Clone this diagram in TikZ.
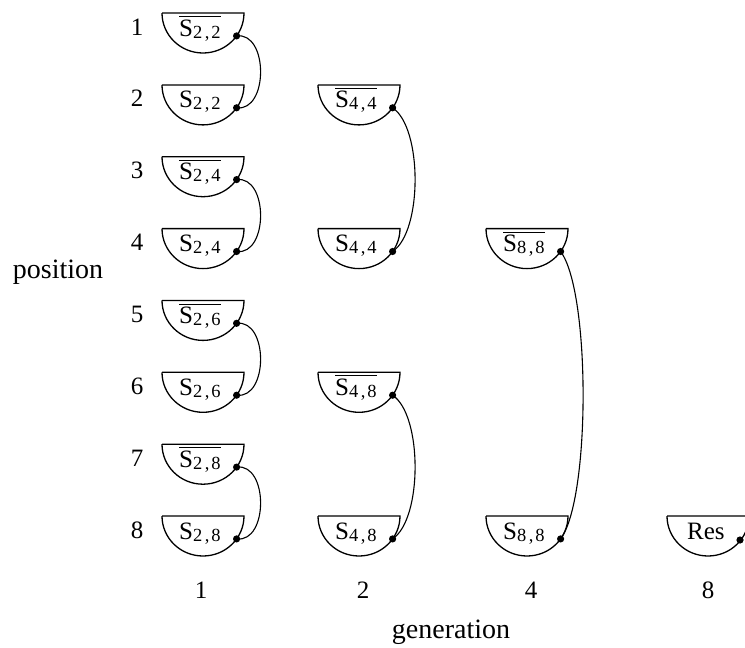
\documentclass[tikz,border=0pt]{standalone}
\usepackage{fontspec}
\setmainfont{Liberation Serif}
\newcommand\ovl[1]{\leavevmode\vbox{\hrule height 0.8pt\kern 2.5pt\hbox{#1}}}
\newcommand\sub[1]{\lower2pt\hbox{\fontsize{18.5}{18.5}\selectfont #1}}
\newcommand\lab[2]{S\sub{#1\hspace{2.5pt},\hspace{2pt}#2}}
\tikzset{
  bowlline/.style={line width=1.3pt},
  conn/.style={line width=1.1pt},
  bowltext/.style={anchor=base west,inner sep=0pt,font=\fontsize{25}{25}\selectfont},
  rowlab/.style={anchor=base,inner sep=0pt,font=\fontsize{25}{26}\selectfont},
  axlab/.style={anchor=base,inner sep=0pt,font=\fontsize{28}{30}\selectfont},
}
% #1 name, #2 cx, #3 top, #4 text
\newcommand\bowl[4]{%
  \draw[bowlline] ({#2-41},{-#3}) -- ({#2+41},{-#3})
     arc[start angle=0,end angle=-180,x radius=41,y radius=40];
  \node[bowltext] (#1) at ({#2-24},{-#3-23}) {#4};
  \coordinate (#1d) at ({#2+33.6},{-#3-22.9});
  \fill (#1d) circle (3.6pt);
}
\begin{document}
\begin{tikzpicture}[x=1pt,y=1pt]
\useasboundingbox (0,0) rectangle (745,-648);
% row tops
\def\ra{13}\def\rb{84.9}\def\rc{156.7}\def\rd{228.6}
\def\re{300.4}\def\rf{372.3}\def\rg{444.2}\def\rh{516}
% generation 1
\bowl{a1}{203}{\ra}{\ovl{\lab{2}{2}}}
\bowl{a2}{203}{\rb}{\lab{2}{2}}
\bowl{a3}{203}{\rc}{\ovl{\lab{2}{4}}}
\bowl{a4}{203}{\rd}{\lab{2}{4}}
\bowl{a5}{203}{\re}{\ovl{\lab{2}{6}}}
\bowl{a6}{203}{\rf}{\lab{2}{6}}
\bowl{a7}{203}{\rg}{\ovl{\lab{2}{8}}}
\bowl{a8}{203}{\rh}{\lab{2}{8}}
% generation 2
\bowl{b2}{359}{\rb}{\ovl{\lab{4}{4}}}
\bowl{b4}{359}{\rd}{\lab{4}{4}}
\bowl{b6}{359}{\rf}{\ovl{\lab{4}{8}}}
\bowl{b8}{359}{\rh}{\lab{4}{8}}
% generation 4
\bowl{c4}{527}{\rd}{\ovl{\lab{8}{8}}}
\bowl{c8}{527}{\rh}{\lab{8}{8}}
% generation 8
\draw[bowlline] (667,-\rh) -- (749,-\rh)
   arc[start angle=0,end angle=-180,x radius=41,y radius=40];
\node[bowltext] (res) at (687,{-\rh-23}) {Res};
\coordinate (resd) at (740,{-\rh-24});
\fill (resd) circle (3.6pt);
% connectors
\draw[conn] (a1d) .. controls +(32,4) and +(32,-4) .. (a2d);
\draw[conn] (a3d) .. controls +(32,4) and +(32,-4) .. (a4d);
\draw[conn] (a5d) .. controls +(32,4) and +(32,-4) .. (a6d);
\draw[conn] (a7d) .. controls +(32,4) and +(32,-4) .. (a8d);
\draw[conn] (b2d) .. controls +(30,-20) and +(30,20) .. (b4d);
\draw[conn] (b6d) .. controls +(30,-20) and +(30,20) .. (b8d);
\draw[conn] (c4d) .. controls +(30,-40) and +(30,40) .. (c8d);
% row labels
\node[rowlab] (p1) at (137,{-\ra-22}) {1};
\node[rowlab] (p2) at (137,{-\rb-22}) {2};
\node[rowlab] (p3) at (137,{-\rc-22}) {3};
\node[rowlab] (p4) at (137,{-\rd-22}) {4};
\node[rowlab] (p5) at (137,{-\re-22}) {5};
\node[rowlab] (p6) at (137,{-\rf-22}) {6};
\node[rowlab] (p7) at (137,{-\rg-22}) {7};
\node[rowlab] (p8) at (137,{-\rh-22}) {8};
% column labels
\node[rowlab] (g1) at (201,-598) {1};
\node[rowlab] (g2) at (363,-598) {2};
\node[rowlab] (g4) at (531,-598) {4};
\node[rowlab] (g8) at (708,-598) {8};
\node[axlab] (pos) at (58,-278) {position};
\node[axlab] (gen) at (451,-638) {generation};
\end{tikzpicture}
\end{document}
